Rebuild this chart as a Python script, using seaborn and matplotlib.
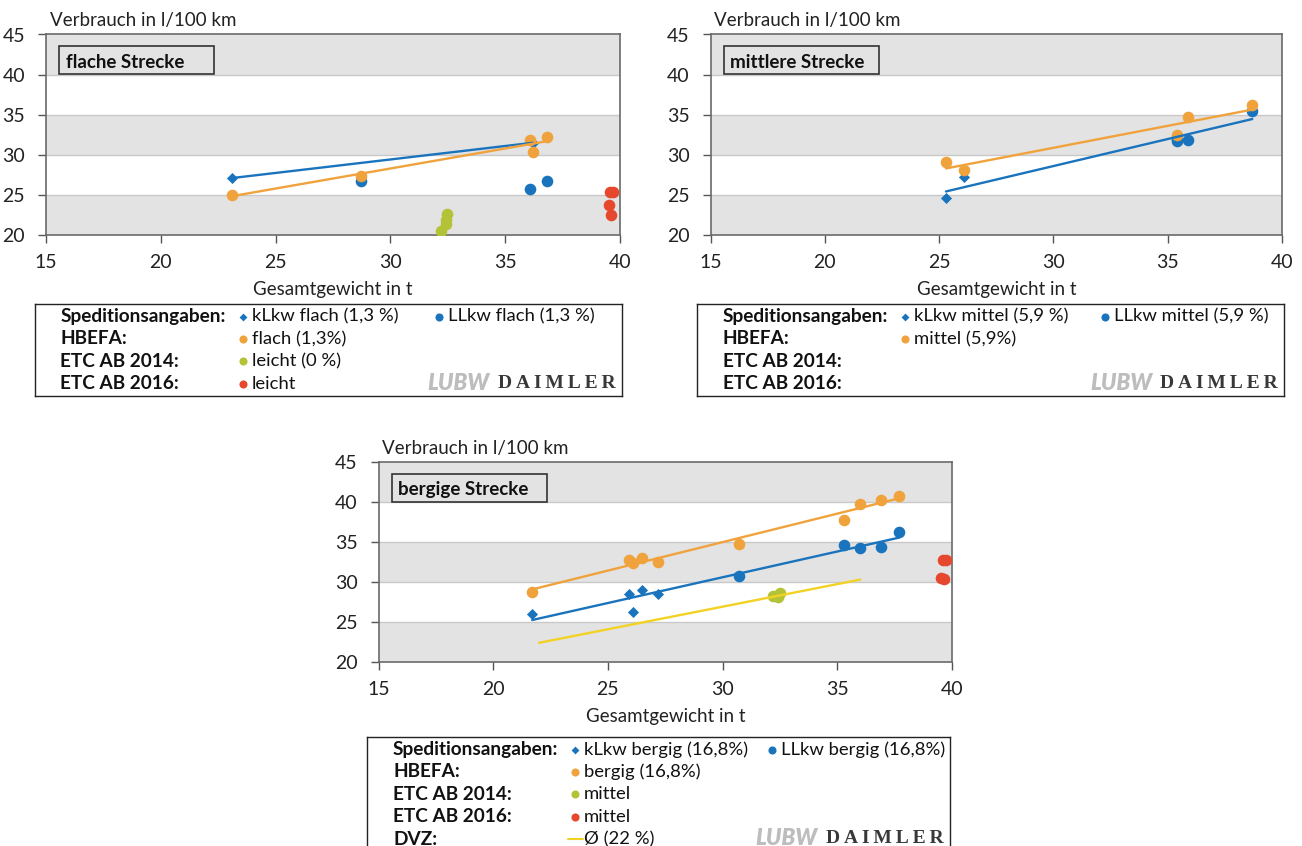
import numpy as np
import seaborn as sns
import matplotlib.pyplot as plt

# Gesamtgewicht in t und Verbrauch in l/100 km
flach_klkw_t = [23.1, 36.2]
flach_klkw_l = [27.1, 31.5]
flach_llkw_t = [28.7, 36.1, 36.8]
flach_llkw_l = [26.7, 25.7, 26.7]
flach_hbefa_t = [23.1, 28.7, 36.1, 36.2, 36.8]
flach_hbefa_l = [25.0, 27.4, 31.9, 30.4, 32.2]
flach_etc14_t = [32.2, 32.4, 32.4, 32.45]
flach_etc14_l = [20.5, 21.4, 21.9, 22.6]
flach_etc16_t = [39.55, 39.7, 39.5, 39.6]
flach_etc16_l = [25.3, 25.3, 23.7, 22.5]

mittel_klkw_t = [25.3, 26.1]
mittel_klkw_l = [24.6, 27.2]
mittel_llkw_t = [35.4, 35.4, 35.9, 38.7]
mittel_llkw_l = [31.7, 32.0, 31.9, 35.5]
mittel_hbefa_t = [25.3, 26.1, 35.4, 35.9, 38.7]
mittel_hbefa_l = [29.1, 28.1, 32.5, 34.7, 36.2]

bergig_klkw_t = [21.7, 25.9, 26.1, 26.5, 27.2]
bergig_klkw_l = [26.0, 28.5, 26.2, 29.0, 28.5]
bergig_llkw_t = [30.7, 35.3, 36.0, 36.9, 37.7]
bergig_llkw_l = [30.8, 34.6, 34.3, 34.4, 36.2]
bergig_hbefa_t = [21.7, 25.9, 26.1, 26.5, 27.2, 30.7, 35.3, 36.0, 36.9, 37.7]
bergig_hbefa_l = [28.8, 32.8, 32.4, 33.0, 32.5, 34.7, 37.7, 39.7, 40.3, 40.8]
bergig_etc14_t = [32.2, 32.5, 32.4]
bergig_etc14_l = [28.3, 28.6, 28.1]
bergig_etc16_t = [39.5, 39.65, 39.6, 39.75]
bergig_etc16_l = [30.5, 30.4, 32.7, 32.8]
dvz_t = [22.0, 36.0]
dvz_l = [22.4, 30.3]

ticks_x = [15, 20, 25, 30, 35, 40]
ticks_y = [20, 25, 30, 35, 40, 45]

zeilen = ['Speditionsangaben:', 'HBEFA:', 'ETC AB 2014:', 'ETC AB 2016:']
zeilen_bergig = zeilen + ['DVZ:']

BLAU = '#1a74bd'
ORANGE = '#f0a23c'
GRUEN = '#b3c236'
ROT = '#e5482c'
GELB = '#f2d224'
GRAU = '#e3e3e3'

W, H = 1302, 846

sns.set_style('white')
plt.rcParams['font.family'] = ['Lato', 'DejaVu Sans']

fig = plt.figure(figsize=(W / 100, H / 100), dpi=100)


def box(x0, y0, x1, y1):
    return [x0 / W, 1 - y1 / H, (x1 - x0) / W, (y1 - y0) / H]


def diagramm(x0, y0, x1, y1, titel, punkte, trends, dvz=None):
    ax = fig.add_axes(box(x0, y0, x1, y1))
    for lo in (20, 30, 40):
        ax.axhspan(lo, lo + 5, color=GRAU, lw=0, zorder=0)
    for y in (25, 30, 35, 40):
        ax.axhline(y, color='#c9c9c9', lw=1, zorder=0.5)
    for t, l, farbe, marker, s in punkte:
        sns.scatterplot(x=t, y=l, color=farbe, marker=marker, s=s, linewidth=0, ax=ax, zorder=3)
    for t, l, farbe in trends:
        sns.regplot(x=np.array(t), y=np.array(l), scatter=False, ci=None, truncate=True,
                    color=farbe, line_kws={'lw': 1.7, 'zorder': 4}, ax=ax)
    if dvz is not None:
        sns.lineplot(x=dvz[0], y=dvz[1], color=GELB, lw=1.7, ax=ax, zorder=4)
    ax.set_xlim(15, 40)
    ax.set_ylim(20, 45)
    ax.set_xticks(ticks_x)
    ax.set_yticks(ticks_y)
    ax.set_xlabel('')
    ax.set_ylabel('')
    ax.tick_params(axis='both', direction='out', length=6, width=1, color='#555555',
                   labelsize=14, labelcolor='#222222')
    ax.tick_params(axis='x', pad=8)
    ax.tick_params(axis='y', pad=9)
    ax.tick_params(bottom=True, left=True)
    for s in ax.spines.values():
        s.set_color('#6a6a6a')
        s.set_linewidth(1.2)
    fig.text((x0 + 4) / W, 1 - (y0 - 14) / H, 'Verbrauch in l/100 km', fontsize=13.5,
             va='center', ha='left', color='#222222')
    fig.text((x0 + x1) / 2 / W, 1 - (y1 + 54) / H, 'Gesamtgewicht in t', fontsize=13.5,
             va='center', ha='center', color='#222222')
    r = plt.Rectangle(((x0 + 13) / W, 1 - (y0 + 39.5) / H), 155 / W, 28 / H,
                      transform=fig.transFigure, fill=False, ec='#333333', lw=1.2)
    fig.add_artist(r)
    fig.text((x0 + 20) / W, 1 - (y0 + 27.5) / H, titel, fontsize=13.5, weight='bold',
             va='center', ha='left', color='#111111')
    return ax


def legende(x0, y0, x1, y1, zeilen, eintraege, spalte2):
    lax = fig.add_axes(box(x0, y0, x1, y1))
    lax.set_xlim(x0, x1)
    lax.set_ylim(y1, y0)
    lax.set_xticks([])
    lax.set_yticks([])
    lax.set_facecolor('white')
    for s in lax.spines.values():
        s.set_color('#222222')
        s.set_linewidth(1)
    zy = [y0 + 12.5 + 22.4 * i for i in range(len(zeilen))]
    for i, z in enumerate(zeilen):
        lax.text(x0 + 26, zy[i], z, fontsize=13.7, weight='bold', va='center', ha='left',
                 color='#111111')
    for zeile, spalte, marker, farbe, text in eintraege:
        mx = x0 + (208 if spalte == 0 else spalte2)
        if marker == '-':
            lax.plot([mx - 7, mx + 8], [zy[zeile], zy[zeile]], color=GELB, lw=1.5)
        elif marker == 'D':
            lax.scatter([mx], [zy[zeile]], marker='D', s=16, color=farbe, linewidths=0)
        else:
            lax.scatter([mx], [zy[zeile]], marker='o', s=34, color=farbe, linewidths=0)
        lax.text(mx + 9, zy[zeile], text, fontsize=13.3, va='center', ha='left', color='#111111')
    ly = y0 + 79 if len(zeilen) == 4 else y0 + 101
    lax.text(x1 - 163, ly, 'LUBW', fontsize=16, style='italic', weight='heavy',
             color='#bdbdbd', va='center', ha='center')
    lax.text(x1 - 65, ly, '\u2009'.join('DAIMLER'), fontsize=14, weight='bold',
             family=['Liberation Serif', 'DejaVu Serif'], color='#383838', va='center', ha='center')


diagramm(46, 34.5, 620, 235, 'flache Strecke',
         [(flach_llkw_t, flach_llkw_l, BLAU, 'o', 70),
          (flach_klkw_t, flach_klkw_l, BLAU, 'D', 32),
          (flach_hbefa_t, flach_hbefa_l, ORANGE, 'o', 70),
          (flach_etc14_t, flach_etc14_l, GRUEN, 'o', 70),
          (flach_etc16_t, flach_etc16_l, ROT, 'o', 70)],
         [(flach_klkw_t, flach_klkw_l, BLAU),
          (flach_hbefa_t, flach_hbefa_l, ORANGE)])

diagramm(710.5, 34.5, 1282, 235, 'mittlere Strecke',
         [(mittel_llkw_t, mittel_llkw_l, BLAU, 'o', 70),
          (mittel_klkw_t, mittel_klkw_l, BLAU, 'D', 32),
          (mittel_hbefa_t, mittel_hbefa_l, ORANGE, 'o', 70)],
         [(mittel_klkw_t + mittel_llkw_t, mittel_klkw_l + mittel_llkw_l, BLAU),
          (mittel_hbefa_t, mittel_hbefa_l, ORANGE)])

diagramm(378.5, 462, 952, 662, 'bergige Strecke',
         [(bergig_llkw_t, bergig_llkw_l, BLAU, 'o', 70),
          (bergig_klkw_t, bergig_klkw_l, BLAU, 'D', 32),
          (bergig_hbefa_t, bergig_hbefa_l, ORANGE, 'o', 70),
          (bergig_etc14_t, bergig_etc14_l, GRUEN, 'o', 70),
          (bergig_etc16_t, bergig_etc16_l, ROT, 'o', 70)],
         [(bergig_klkw_t + bergig_llkw_t, bergig_klkw_l + bergig_llkw_l, BLAU),
          (bergig_hbefa_t, bergig_hbefa_l, ORANGE)],
         dvz=(dvz_t, dvz_l))

legende(34.5, 304, 621.5, 396, zeilen,
        [(0, 0, 'D', BLAU, 'kLkw flach (1,3 %)'), (0, 1, 'o', BLAU, 'LLkw flach (1,3 %)'),
         (1, 0, 'o', ORANGE, 'flach (1,3%)'), (2, 0, 'o', GRUEN, 'leicht (0 %)'),
         (3, 0, 'o', ROT, 'leicht')], 404)

legende(697, 304, 1284, 396, zeilen,
        [(0, 0, 'D', BLAU, 'kLkw mittel (5,9 %)'), (0, 1, 'o', BLAU, 'LLkw mittel (5,9 %)'),
         (1, 0, 'o', ORANGE, 'mittel (5,9%)')], 408)

legende(367, 737, 949.5, 870, zeilen_bergig,
        [(0, 0, 'D', BLAU, 'kLkw bergig (16,8%)'), (0, 1, 'o', BLAU, 'LLkw bergig (16,8%)'),
         (1, 0, 'o', ORANGE, 'bergig (16,8%)'), (2, 0, 'o', GRUEN, 'mittel'),
         (3, 0, 'o', ROT, 'mittel'), (4, 0, '-', GELB, '\u00d8 (22 %)')], 405)

fig.savefig('out.png', dpi=100)
